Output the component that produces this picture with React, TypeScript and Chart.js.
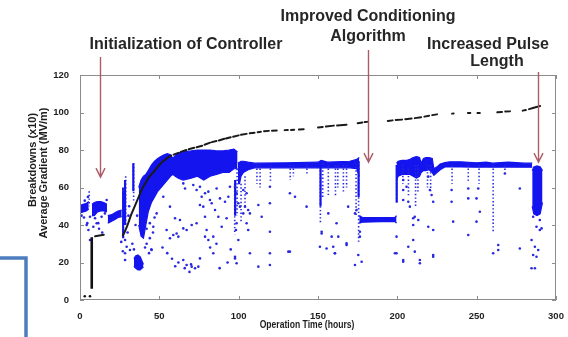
import React, { useEffect, useRef } from 'react';
import { Chart, registerables } from 'chart.js';

Chart.register(...registerables);

// ---------- axes ----------
const xTicks = [0, 50, 100, 150, 200, 250, 300];
const yTicks = [0, 20, 40, 60, 80, 100, 120];

// ---------- black series: average gradient (MV/m) ----------
const gradientStart: [number, number][] = [[3, 2], [6.3, 2]];
const controllerRamp: [number, number][] = [[7.4, 6], [7.4, 33.5]];
// each inner list is one visible stroke of the gradient trace
const gradientDashes: [number, number][][] = [
  [[9.5, 34], [15, 34.8]],
  [[27, 34.5], [28, 36], [29, 38], [30, 40], [31, 42.5], [32, 45], [33, 47], [34, 49], [35, 51], [36, 53],
   [37, 55], [38, 57], [39, 59], [40, 60.5], [41, 62], [42, 63.5], [43, 65], [44, 66], [45, 67], [46, 68],
   [47, 69], [48, 70], [49, 71], [50, 72], [51, 73], [52, 73.8], [53, 74.5], [54, 75], [55, 75.8], [56, 76.3], [57.5, 77]],
  [[59, 77.5], [62, 78.5]], [[63.5, 79], [67, 80]], [[68.5, 80.4], [72, 81.2]], [[73.5, 81.5], [77, 82.3]],
  [[78.5, 82.8], [82, 83.9]], [[83, 84.2], [86, 84.8]], [[87.5, 85.1], [91, 86]], [[92, 86.1], [95, 86.8]],
  [[96.5, 87.1], [100, 87.8]], [[101.5, 88.1], [105, 88.6]], [[107, 88.9], [110, 89.2]], [[112, 89.5], [114, 89.7]],
  [[116, 90], [119, 90.2]], [[121, 90.3], [124, 90.4]], [[129, 90.6], [131, 90.7]], [[133, 90.7], [135, 90.8]],
  [[138, 90.9], [141, 91.1]], [[150, 92], [153, 92.3]], [[155, 92.5], [160, 93]], [[162, 93.1], [168, 93.5]],
  [[175, 94.3], [178, 94.7]], [[179.5, 94.9], [181, 95]], [[194, 95.5], [197, 95.8]], [[199, 96], [203, 96.2]],
  [[205, 96.4], [209, 96.8]], [[211, 97], [215, 97.5]], [[217, 97.8], [220, 98.3]], [[222, 98.6], [225, 99]],
  [[234.5, 99.4], [235.5, 99.5]], [[244.5, 99.7], [246, 99.7]], [[250.5, 99.8], [252, 99.8]],
  [[263, 100.1], [266, 100.3]], [[268, 100.5], [271, 100.6]], [[279, 101], [281, 101.3]], [[283, 101.8], [286, 102.5], [290, 103.5]],
];

// ---------- blue series: breakdowns (x10), dense bands [hour, top, bottom] ----------
const bandInitial: [number, number, number][] = [[0, 50.5, 46.5], [2, 51, 47], [4, 51.5, 47.5], [5.5, 52.5, 48.5]];
const bandController: [number, number, number][] = [[7.5, 51, 45], [9, 52, 45], [11, 52.5, 47], [13, 52.5, 47.5], [15, 52, 47.5], [17, 51, 47]];
const bandRamp: [number, number, number][] = [[17.5, 45, 41], [20, 45.5, 42], [22, 46.5, 43], [24, 47.5, 44], [26.3, 48, 44.5]];
const bandLowCluster: [number, number, number][] = [[34, 22, 18], [35, 23.5, 17], [36.5, 24, 16], [38, 23, 16], [39, 21, 17], [40, 19, 17.5]];
const bandEarly: [number, number, number][] = [
  [37, 60, 40], [38.5, 64, 34], [40, 66, 33], [41.5, 67, 40], [43, 69, 47], [45, 72, 52], [47, 74, 55],
  [49, 75.5, 58], [51, 76.5, 60], [53, 77.5, 62], [55, 78, 64], [57, 77.5, 66], [58.5, 75.5, 67], [60, 77, 66],
  [62, 78.5, 65], [65, 79, 64], [70, 79.5, 65], [74, 80, 66], [78, 80, 64], [82, 80, 66], [86, 79.5, 67],
  [90, 79.5, 68], [94, 80, 68], [97, 80.5, 70], [99.3, 79, 70],
];
const bandMid: [number, number, number][] = [
  [99.5, 73, 62], [100.5, 73.5, 62], [101.5, 74, 66], [103, 74, 68], [106, 73.5, 69.5], [110, 73, 70.5],
  [130, 73.2, 70.5], [150, 73.5, 70.5], [152, 74.5, 70.5], [156, 73.5, 70.5], [170, 74, 70.5],
  [174.5, 75, 70], [176, 76, 66],
];
const bandAlgorithm: [number, number, number][] = [[176, 45, 41], [178, 44, 41.5], [190, 44, 41.8], [198.5, 44, 41.8], [199.5, 45, 41]];
const bandLate: [number, number, number][] = [
  [199.5, 73, 64], [200.5, 74, 66], [203, 74.5, 67], [206, 74.5, 67], [208, 75, 67], [210, 76, 66],
  [212, 76.5, 65], [214, 76, 66], [215, 73, 68], [216.5, 75.5, 69], [218, 76, 69], [220, 76, 69.5],
  [222, 75.5, 68], [223, 70, 66.5], [225, 71, 68], [227, 72.5, 69.5], [230, 73.3, 71], [233, 73.7, 71],
  [240, 73.7, 71], [250, 73.2, 70.8], [256, 73.5, 71], [260, 73, 70.8], [270, 73.5, 71], [280, 73, 70.8],
  [285, 73, 70.8],
];
const bandPulse: [number, number, number][] = [[285, 69, 50], [286, 71, 46], [288, 71.5, 45], [290, 71, 46], [291.5, 69, 52]];

// vertical runs of breakdowns [hour, top, bottom]
const solidStreaks: [number, number, number][] = [
  [27.2, 60, 33], [28.4, 64, 40], [33.6, 73, 58], [97.8, 64, 45], [151.6, 73, 50], [175.6, 74, 55], [199.6, 72, 52],
];
const dottedStreaks: [number, number, number][] = [
  [5.8, 58, 50], [28.8, 66, 40], [33.8, 73, 52], [97.5, 62, 35], [99, 70, 45], [101.5, 62, 42], [104, 66, 50],
  [111.5, 72, 62], [113.5, 72, 60], [120, 72, 63], [132.5, 72, 64], [134.5, 72, 66], [143, 72, 67],
  [151.5, 73, 41], [153, 73, 55], [156.5, 72, 56], [161, 72, 55], [162.5, 72, 60], [166, 72, 57], [168, 72, 60],
  [174, 73, 45], [175.6, 74, 30], [199.6, 72, 52], [203.5, 72, 62], [207, 70, 55], [211.5, 72, 50], [213, 72, 57],
  [219, 72, 60], [221, 72, 58], [234.5, 72, 62], [244.7, 72, 63], [251.5, 72, 62], [260.4, 72, 36], [267.8, 72, 68],
];

// scattered single breakdowns [hour, value]
const outliers: [number, number][] = [
  [4.2, 40], [5.3, 37.3], [6.3, 32], [8.4, 39.1], [10.5, 40.9], [6.3, 44.4], [4.6, 41], [9.5, 43.6], [11.5, 41],
  [13.6, 44.4], [15.7, 46.2], [16.8, 53.3], [1, 45], [2.5, 44], [12, 38], [14, 36], [3, 53], [5, 55],
  [27.3, 58.7], [28.4, 24.9], [28.4, 21.3], [28.4, 32], [29.4, 28.4], [31.5, 26.7], [30, 36], [26, 31], [27, 26],
  [30.5, 45], [31, 50], [33, 30], [34, 27], [41, 28], [42, 30], [43.5, 25], [44, 33], [45, 27], [36, 45], [35, 40],
  [42, 38], [44, 41], [46, 36], [47, 44],
  [65.1, 62.2], [66.2, 59.5], [71.4, 61.3], [73.5, 58.7], [75.6, 60.4], [76.7, 55.1], [78.8, 56.9], [80.9, 57.8],
  [81.9, 53.3], [83, 51.6], [85.1, 48], [86.1, 59.5], [88.2, 54.2], [91.4, 52.4], [93.5, 55.1], [94.5, 60.4],
  [48.3, 46.2], [52.5, 55.1], [56.7, 49.8], [59.9, 43.6], [63, 42.7], [65.1, 38.2], [67.2, 37.3], [70.4, 40],
  [73.5, 40.9], [75.6, 50.7], [77.7, 49.8], [78.8, 44.4], [79.8, 37.3], [84, 33.8], [87.2, 44.4], [92.4, 43.6],
  [98.7, 40.9], [100.8, 49.8], [102.9, 46.2], [97.7, 60.4], [98.7, 56.9], [99.8, 51.6], [98.3, 37.3], [99.8, 32],
  [60.9, 35.5], [62, 33.8], [58.8, 34.7], [65.1, 21.3], [67.2, 18.7], [70.4, 17.8], [72.5, 16.9], [75.6, 22.2],
  [74.6, 17.8], [84, 24.9], [97.7, 22.2], [98.7, 19.6], [45.1, 26.7], [46.2, 39.1], [54.6, 37.3], [56.7, 32.9],
  [78.8, 33.8], [80.9, 32], [89.3, 39.1], [52, 28], [55, 25], [58, 22], [60, 18], [62, 20], [66, 17], [69, 15],
  [70, 19], [88, 17], [93, 20], [82, 28], [86, 30], [95, 27],
  [102.9, 58.7], [105, 56.9], [104, 49.8], [106, 48], [107.1, 46.2], [105, 40.9], [106, 37.3], [112.4, 50.7],
  [114.5, 44.4], [107.1, 24.9], [112.4, 17.8], [119.7, 60.4], [119.7, 51.6], [119.7, 36.4], [119.7, 24.9],
  [119.7, 18.7], [132.3, 56.9], [135.5, 55.1], [132.3, 25.8], [142.8, 49.8], [152.3, 35.5], [151.2, 28.4],
  [155.4, 27.5], [156.5, 46.2], [161.7, 40.9], [160.6, 24.9], [162.8, 33.8], [168, 30.2], [169, 49.8],
  [173.3, 18.7], [175.4, 24], [174.3, 48], [173.3, 46.2], [97.7, 23.1], [131.3, 25.8], [160.7, 24.9],
  [168, 29.3], [177.5, 20.4], [176.4, 36.4], [176.4, 33.8], [152.3, 36.4], [158.6, 33.8], [159.6, 28.4],
  [199.5, 33.8], [199.5, 24.9], [203.7, 64], [203.7, 58.7], [203.7, 53.3], [203.7, 21.3], [205.8, 60.4],
  [206.9, 52.4], [207.9, 49.8], [206.9, 28.4], [210, 43.6], [210, 40], [211, 44.4], [213.2, 42.7], [214.2, 21.3],
  [219.5, 65.8], [220.5, 58.7], [221.6, 56], [222.6, 52.4], [219.5, 39.1], [222.6, 37.3], [222.6, 23.1],
  [234.2, 58.7], [234.2, 52.4], [235.2, 41.8], [244.7, 59.5], [244.7, 54.2], [244.7, 34.7], [251, 59.5],
  [249.9, 54.2], [252, 47.1], [249.9, 41.8], [263.6, 29.3], [263.6, 26.7], [260.4, 24.9], [267.8, 67.5],
  [277.2, 59.5], [277.2, 27.5], [285.6, 44.4], [287.7, 39.1], [289.8, 37.3], [284.6, 32], [286.7, 28.4],
  [288.8, 26.7], [285.6, 24], [287.7, 23.1], [284.6, 16.9], [286.7, 16.9], [289.8, 42.7], [290.9, 38.2],
  [198.5, 24.9], [203.7, 20.4], [210, 32], [214.2, 19.6], [222.6, 24], [211, 25.8],
];

// annotation arrows: hour, tip value, top pixel row of the arrow shaft
const arrowHours = [12.6, 181.5, 288.6];
const arrowTips = [65.5, 73.5, 73.5];
const arrowTops = [57, 50, 72];

const BLUE = 'rgb(20,20,238)';
const DOT_BLUE = 'rgb(40,40,222)';
const ARROW = 'rgb(172,92,104)';

const pts = (a: [number, number][]) => a.map(([x, y]) => ({ x, y }));

function dashData(segs: [number, number][][]) {
  return segs.flatMap((s) => [...pts(s), { x: s[s.length - 1][0], y: null as any }]);
}

function bandDatasets(band: [number, number, number][]) {
  return [
    {
      data: band.map(([x, t]) => ({ x, y: t })), showLine: true, fill: '+1',
      borderColor: BLUE, backgroundColor: BLUE, borderWidth: 1.2, pointRadius: 0, tension: 0,
    },
    {
      data: band.map(([x, , b]) => ({ x, y: b })), showLine: true, fill: false,
      borderColor: BLUE, backgroundColor: BLUE, borderWidth: 1.2, pointRadius: 0, tension: 0,
    },
  ];
}

function streakData(list: [number, number, number][]) {
  return list.flatMap(([x, t, b]) => [{ x, y: t }, { x, y: b }, { x, y: null as any }]);
}

const overlay = {
  id: 'overlay',
  beforeDraw(chart: any) {
    const { ctx, width, height } = chart;
    ctx.save();
    ctx.fillStyle = '#ffffff';
    ctx.fillRect(0, 0, width, height);
    ctx.restore();
  },
  afterDatasetsDraw(chart: any) {
    const { ctx, chartArea: a } = chart;
    const xs = chart.scales.x;
    const ys = chart.scales.y;
    ctx.save();
    // box
    ctx.strokeStyle = 'rgb(140,140,140)';
    ctx.lineWidth = 1;
    ctx.strokeRect(a.left + 0.5, a.top + 0.5, a.right - a.left - 1, a.bottom - a.top - 1);
    // inward ticks
    ctx.beginPath();
    xTicks.forEach((v) => {
      const px = Math.round(xs.getPixelForValue(v)) + 0.5;
      ctx.moveTo(px, a.bottom); ctx.lineTo(px, a.bottom - 4);
      ctx.moveTo(px, a.top); ctx.lineTo(px, a.top + 4);
    });
    yTicks.forEach((v) => {
      const py = Math.round(ys.getPixelForValue(v)) + 0.5;
      ctx.moveTo(a.left, py); ctx.lineTo(a.left + 4, py);
      ctx.moveTo(a.right, py); ctx.lineTo(a.right - 4, py);
    });
    ctx.stroke();

    // axis titles
    ctx.fillStyle = '#1e1e1e';
    ctx.textAlign = 'center';
    ctx.textBaseline = 'middle';
    ctx.font = 'bold 11px "Liberation Sans", Arial, sans-serif';
    ctx.save();
    ctx.translate(307, 325);
    ctx.scale(0.78, 1);
    ctx.fillText('Operation Time (hours)', 0, 0);
    ctx.restore();
    ctx.save();
    ctx.translate(33, 160);
    ctx.rotate(-Math.PI / 2);
    ctx.fillText('Breakdowns (x10)', 0, 0);
    ctx.restore();
    ctx.save();
    ctx.translate(44, 173);
    ctx.rotate(-Math.PI / 2);
    ctx.fillText('Average Gradient (MV/m)', 0, 0);
    ctx.restore();

    // arrows
    ctx.strokeStyle = ARROW;
    ctx.lineWidth = 1.4;
    arrowHours.forEach((h, i) => {
      const px = Math.round(xs.getPixelForValue(h)) + 0.5;
      const tip = ys.getPixelForValue(arrowTips[i]);
      ctx.beginPath();
      ctx.moveTo(px, arrowTops[i]);
      ctx.lineTo(px, tip);
      ctx.moveTo(px - 4.5, tip - 9);
      ctx.lineTo(px, tip);
      ctx.lineTo(px + 4.5, tip - 9);
      ctx.stroke();
    });

    // annotation texts
    ctx.fillStyle = '#262626';
    ctx.font = 'bold 16px "Liberation Sans", Arial, sans-serif';
    ctx.fillText('Improved Conditioning', 368, 17);
    ctx.fillText('Algorithm', 368, 37);
    ctx.fillText('Initialization of Controller', 186, 45);
    ctx.fillText('Increased Pulse', 488, 45);
    ctx.fillText('Length', 497, 62);

    // blue bracket
    ctx.strokeStyle = 'rgb(76,126,190)';
    ctx.lineWidth = 3.5;
    ctx.beginPath();
    ctx.moveTo(0, 258);
    ctx.lineTo(26, 258);
    ctx.lineTo(26, 340);
    ctx.stroke();
    ctx.restore();
  },
};

export default function App() {
  const ref = useRef<HTMLCanvasElement>(null);
  useEffect(() => {
    if (!ref.current) return;
    const tickFont = { family: '"Liberation Sans", Arial, sans-serif', size: 9.5, weight: 'bold' as const };
    const datasets: any[] = [
      { data: pts(gradientStart), pointRadius: 1.3, backgroundColor: '#111', borderWidth: 0 },
      { data: pts(controllerRamp), showLine: true, borderColor: '#111', borderWidth: 2.6, pointRadius: 0 },
      { data: dashData(gradientDashes), showLine: true, spanGaps: false, borderColor: '#1a1a1a', borderWidth: 2, pointRadius: 0, borderCapStyle: 'round' },
      { data: pts(outliers), pointRadius: 1.3, backgroundColor: DOT_BLUE, borderWidth: 0 },
      { data: streakData(solidStreaks), showLine: true, spanGaps: false, borderColor: BLUE, borderWidth: 2.2, pointRadius: 0 },
      { data: streakData(dottedStreaks), showLine: true, spanGaps: false, borderColor: DOT_BLUE, borderWidth: 1.6, borderDash: [1.4, 2.2], pointRadius: 0 },
      ...bandDatasets(bandInitial),
      ...bandDatasets(bandController),
      ...bandDatasets(bandRamp),
      ...bandDatasets(bandLowCluster),
      ...bandDatasets(bandEarly),
      ...bandDatasets(bandMid),
      ...bandDatasets(bandAlgorithm),
      ...bandDatasets(bandLate),
      ...bandDatasets(bandPulse),
    ];
    const chart = new Chart(ref.current, {
      type: 'scatter',
      data: { datasets },
      options: {
        animation: false,
        responsive: false,
        devicePixelRatio: 1,
        layout: { padding: { top: 75, right: 12, left: 0, bottom: 0 } },
        plugins: { legend: { display: false }, tooltip: { enabled: false } },
        scales: {
          x: {
            type: 'linear', min: 0, max: 300,
            afterBuildTicks: (s: any) => { s.ticks = xTicks.map((value) => ({ value })); },
            afterFit: (s: any) => { s.height = 37; },
            grid: { display: false }, border: { display: false },
            ticks: { font: tickFont, color: '#1e1e1e', padding: 3, maxRotation: 0, autoSkip: false },
          },
          y: {
            type: 'linear', min: 0, max: 120,
            afterBuildTicks: (s: any) => { s.ticks = yTicks.map((value) => ({ value })); },
            afterFit: (s: any) => { s.width = 80; },
            grid: { display: false }, border: { display: false },
            ticks: { font: tickFont, color: '#1e1e1e', padding: 3, autoSkip: false },
          },
        },
      } as any,
      plugins: [overlay],
    });
    return () => chart.destroy();
  }, []);
  return (
    <div style={{ position: 'fixed', left: 0, top: 0, width: 568, height: 337, background: '#fff' }}>
      <canvas ref={ref} width={568} height={337} style={{ display: 'block', width: 568, height: 337 }} />
    </div>
  );
}
